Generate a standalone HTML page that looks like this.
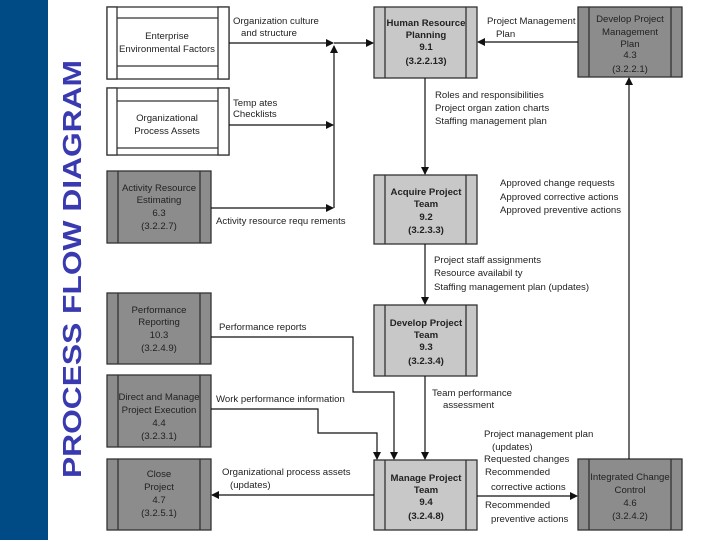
<!DOCTYPE html>
<html><head><meta charset="utf-8"><style>
html,body{margin:0;padding:0;background:#fff;}
svg{display:block;}
text{font-family:"Liberation Sans",sans-serif;font-size:9.6px;fill:#222;}
.b{font-weight:bold;}
</style></head><body>
<svg width="720" height="540" viewBox="0 0 720 540" xmlns="http://www.w3.org/2000/svg">
<defs>
<marker id="a" markerWidth="8" markerHeight="8" refX="7" refY="4" orient="auto" markerUnits="userSpaceOnUse"><path d="M0,0 L8,4 L0,8 z" fill="#111"/></marker>
</defs>
<rect x="0" y="0" width="48" height="540" fill="#004a86"/>
<text transform="translate(81,269) rotate(-90)" text-anchor="middle" textLength="418" lengthAdjust="spacingAndGlyphs" style="font-size:26px;font-weight:bold;fill:#3a3ab0">PROCESS FLOW DIAGRAM</text>

<g stroke="#333" stroke-width="1.3" fill="#fff">
<rect x="107" y="7" width="122" height="72"/>
<rect x="107" y="7" width="10" height="72"/><rect x="218" y="7" width="11" height="72"/>
<line x1="117" y1="18" x2="218" y2="18"/><line x1="117" y1="66" x2="218" y2="66"/>
<rect x="107" y="88" width="122" height="67"/>
<rect x="107" y="88" width="10" height="67"/><rect x="218" y="88" width="11" height="67"/>
<line x1="117" y1="101" x2="218" y2="101"/><line x1="117" y1="148" x2="218" y2="148"/>
</g>
<g stroke="#333" stroke-width="1.3" fill="#8c8c8c">
<rect x="107" y="171" width="104" height="72"/><line x1="118" y1="171" x2="118" y2="243"/><line x1="200" y1="171" x2="200" y2="243"/>
<rect x="107" y="293" width="104" height="71"/><line x1="118" y1="293" x2="118" y2="364"/><line x1="200" y1="293" x2="200" y2="364"/>
<rect x="107" y="375" width="104" height="72"/><line x1="118" y1="375" x2="118" y2="447"/><line x1="200" y1="375" x2="200" y2="447"/>
<rect x="107" y="459" width="104" height="71"/><line x1="118" y1="459" x2="118" y2="530"/><line x1="200" y1="459" x2="200" y2="530"/>
<rect x="578" y="7" width="104" height="70"/><line x1="589" y1="7" x2="589" y2="77"/><line x1="671" y1="7" x2="671" y2="77"/>
<rect x="578" y="459" width="104" height="71"/><line x1="589" y1="459" x2="589" y2="530"/><line x1="671" y1="459" x2="671" y2="530"/>
</g>
<g stroke="#333" stroke-width="1.3" fill="#c8c8c8">
<rect x="374" y="7" width="103" height="71"/><line x1="385" y1="7" x2="385" y2="78"/><line x1="466" y1="7" x2="466" y2="78"/>
<rect x="374" y="175" width="103" height="69"/><line x1="385" y1="175" x2="385" y2="244"/><line x1="466" y1="175" x2="466" y2="244"/>
<rect x="374" y="305" width="103" height="71"/><line x1="385" y1="305" x2="385" y2="376"/><line x1="466" y1="305" x2="466" y2="376"/>
<rect x="374" y="460" width="103" height="70"/><line x1="385" y1="460" x2="385" y2="530"/><line x1="466" y1="460" x2="466" y2="530"/>
</g>

<g stroke="#111" stroke-width="1.2" fill="none">
<line x1="229" y1="43" x2="333" y2="43" marker-end="url(#a)"/>
<line x1="334" y1="43" x2="373" y2="43" marker-end="url(#a)"/>
<line x1="334" y1="208" x2="334" y2="46" marker-end="url(#a)"/>
<line x1="229" y1="125" x2="333" y2="125" marker-end="url(#a)"/>
<line x1="211" y1="208" x2="333" y2="208" marker-end="url(#a)"/>
<line x1="578" y1="42" x2="478" y2="42" marker-end="url(#a)"/>
<line x1="425" y1="78" x2="425" y2="174" marker-end="url(#a)"/>
<line x1="425" y1="244" x2="425" y2="304" marker-end="url(#a)"/>
<line x1="425" y1="376" x2="425" y2="459" marker-end="url(#a)"/>
<polyline points="211,337 353,337 353,392 394,392 394,459" marker-end="url(#a)"/>
<polyline points="211,409 318,409 318,433 377,433 377,459" marker-end="url(#a)"/>
<line x1="374" y1="495" x2="212" y2="495" marker-end="url(#a)"/>
<line x1="477" y1="496" x2="577" y2="496" marker-end="url(#a)"/>
<line x1="629" y1="459" x2="629" y2="78" marker-end="url(#a)"/>
</g>

<g text-anchor="middle">
<text x="167" y="39">Enterprise</text><text x="167" y="52">Environmental Factors</text>
<text x="167" y="121">Organizational</text><text x="167" y="134">Process Assets</text>
<text x="159" y="191">Activity Resource</text><text x="159" y="203">Estimating</text><text x="159" y="216">6.3</text><text x="159" y="229">(3.2.2.7)</text>
<text x="159" y="313">Performance</text><text x="159" y="325">Reporting</text><text x="159" y="338">10.3</text><text x="159" y="351">(3.2.4.9)</text>
<text x="159" y="400">Direct and Manage</text><text x="159" y="413">Project Execution</text><text x="159" y="426">4.4</text><text x="159" y="439">(3.2.3.1)</text>
<text x="159" y="477">Close</text><text x="159" y="490">Project</text><text x="159" y="503">4.7</text><text x="159" y="516">(3.2.5.1)</text>
<text class="b" x="426" y="26">Human Resource</text><text class="b" x="426" y="38">Planning</text><text class="b" x="426" y="50">9.1</text><text class="b" x="426" y="64">(3.2.2.13)</text>
<text class="b" x="426" y="195">Acquire Project</text><text class="b" x="426" y="207">Team</text><text class="b" x="426" y="220">9.2</text><text class="b" x="426" y="233">(3.2.3.3)</text>
<text class="b" x="426" y="326">Develop Project</text><text class="b" x="426" y="338">Team</text><text class="b" x="426" y="350">9.3</text><text class="b" x="426" y="364">(3.2.3.4)</text>
<text class="b" x="426" y="481">Manage Project</text><text class="b" x="426" y="493">Team</text><text class="b" x="426" y="505">9.4</text><text class="b" x="426" y="519">(3.2.4.8)</text>
<text x="630" y="22">Develop Project</text><text x="630" y="35">Management</text><text x="630" y="47">Plan</text><text x="630" y="58">4.3</text><text x="630" y="72">(3.2.2.1)</text>
<text x="630" y="480">Integrated Change</text><text x="630" y="493">Control</text><text x="630" y="506">4.6</text><text x="630" y="519">(3.2.4.2)</text>
</g>

<text x="233" y="24">Organization culture</text><text x="241" y="36">and structure</text>
<text x="233" y="106">Temp ates</text><text x="233" y="117">Checklists</text>
<text x="216" y="224">Activity resource requ rements</text>
<text x="219" y="330">Performance reports</text>
<text x="216" y="402">Work performance information</text>
<text x="222" y="475">Organizational process assets</text><text x="230" y="488">(updates)</text>
<text x="487" y="24">Project Management</text><text x="496" y="37">Plan</text>
<text x="435" y="98">Roles and responsibilities</text><text x="435" y="111">Project organ zation charts</text><text x="435" y="124">Staffing management plan</text>
<text x="500" y="186">Approved change requests</text><text x="500" y="200">Approved corrective actions</text><text x="500" y="213">Approved preventive actions</text>
<text x="434" y="263">Project staff assignments</text><text x="434" y="276">Resource availabil ty</text><text x="434" y="290">Staffing management plan (updates)</text>
<text x="432" y="396">Team performance</text><text x="443" y="408">assessment</text>
<text x="484" y="437">Project management plan</text><text x="492" y="450">(updates)</text><text x="484" y="462">Requested changes</text><text x="485" y="475">Recommended</text><text x="491" y="490">corrective actions</text><text x="485" y="508">Recommended</text><text x="491" y="522">preventive actions</text>
</svg>
</body></html>
